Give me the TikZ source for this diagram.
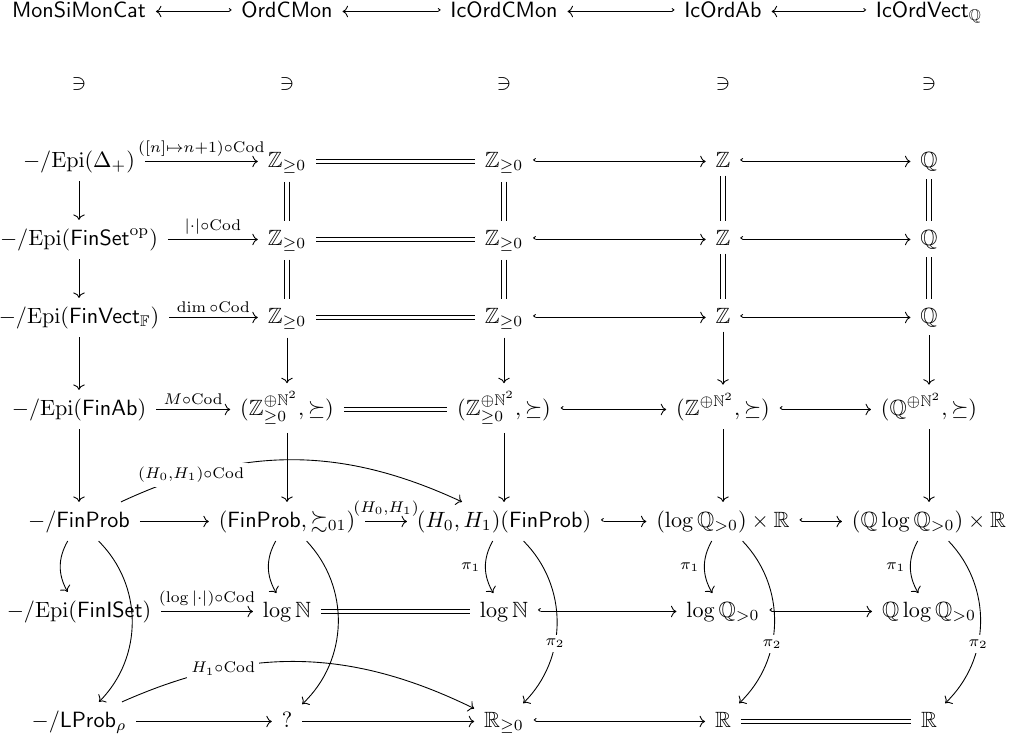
\documentclass[tikz,border=0pt]{standalone}
\usepackage{amsmath,amssymb}
\usetikzlibrary{arrows.meta}
\begin{document}
\begin{tikzpicture}[x=0.4525pt,y=-0.4525pt,
  cell/.style={anchor=base,inner xsep=1ex,inner ysep=0.85ex},
  ar/.style={-{Computer Modern Rightarrow},line width=0.4pt},
  hk/.style={{Hooks[right,length=1.1pt,width=3.2pt]}-{Computer Modern Rightarrow},line width=0.4pt},
  hkl/.style={{Hooks[left,length=1.1pt,width=3.2pt]}-{Computer Modern Rightarrow},line width=0.4pt},
  eq/.style={double,double distance=1.5pt,line width=0.4pt},
  lbl/.style={above,inner sep=0.5ex},
  lbll/.style={left,inner sep=0.5ex},
  desc/.style={fill=white,inner sep=0.45ex,anchor=center}]
\useasboundingbox (0,0) rectangle (1015,741);
\def\ax{2.5pt}
% top row
\node[cell] (t0) at (79,17) {$\mathsf{MonSiMonCat}$};
\node[cell] (t1) at (287,17) {$\mathsf{OrdCMon}$};
\node[cell] (t2) at (504,17) {$\mathsf{IcOrdCMon}$};
\node[cell] (t3) at (723,17) {$\mathsf{IcOrdAb}$};
\node[cell] (t4) at (929,17) {$\mathsf{IcOrdVect}_{\mathbb{Q}}$};
% membership row
\node[cell] (m0) at (79,89) {$\ni$};
\node[cell] (m1) at (287,89) {$\ni$};
\node[cell] (m2) at (504,89) {$\ni$};
\node[cell] (m3) at (723,89) {$\ni$};
\node[cell] (m4) at (929,89) {$\ni$};
% row A
\node[cell] (a0) at (79,167) {$-/\mathrm{Epi}(\Delta_+)$};
\node[cell] (a1) at (287,167) {$\mathbb{Z}_{\geq 0}$};
\node[cell] (a2) at (504,167) {$\mathbb{Z}_{\geq 0}$};
\node[cell] (a3) at (723,167) {$\mathbb{Z}$};
\node[cell] (a4) at (929,167) {$\mathbb{Q}$};
% row B
\node[cell] (b0) at (79,245) {$-/\mathrm{Epi}(\mathsf{FinSet}^{\mathrm{op}})$};
\node[cell] (b1) at (287,245) {$\mathbb{Z}_{\geq 0}$};
\node[cell] (b2) at (504,245) {$\mathbb{Z}_{\geq 0}$};
\node[cell] (b3) at (723,245) {$\mathbb{Z}$};
\node[cell] (b4) at (929,245) {$\mathbb{Q}$};
% row C
\node[cell] (c0) at (79,323) {$-/\mathrm{Epi}(\mathsf{FinVect}_{\mathbb{F}})$};
\node[cell] (c1) at (287,323) {$\mathbb{Z}_{\geq 0}$};
\node[cell] (c2) at (504,323) {$\mathbb{Z}_{\geq 0}$};
\node[cell] (c3) at (723,323) {$\mathbb{Z}$};
\node[cell] (c4) at (929,323) {$\mathbb{Q}$};
% row D
\node[cell] (d0) at (79,415) {$-/\mathrm{Epi}(\mathsf{FinAb})$};
\node[cell] (d1) at (287,415) {$(\mathbb{Z}^{\oplus\mathbb{N}^2}_{\geq 0},\succeq)$};
\node[cell] (d2) at (504,415) {$(\mathbb{Z}^{\oplus\mathbb{N}^2}_{\geq 0},\succeq)$};
\node[cell] (d3) at (723,415) {$(\mathbb{Z}^{\oplus\mathbb{N}^2},\succeq)$};
\node[cell] (d4) at (929,415) {$(\mathbb{Q}^{\oplus\mathbb{N}^2},\succeq)$};
% row E
\node[cell] (e0) at (79,527) {$-/\mathsf{FinProb}$};
\node[cell] (e1) at (287,527) {$(\mathsf{FinProb},\succsim_{01})$};
\node[cell] (e2) at (504,527) {$(H_0,H_1)(\mathsf{FinProb})$};
\node[cell] (e3) at (723,527) {$(\log\mathbb{Q}_{>0})\times\mathbb{R}$};
\node[cell] (e4) at (929,527) {$(\mathbb{Q}\log\mathbb{Q}_{>0})\times\mathbb{R}$};
% row F
\node[cell] (f0) at (79,617) {$-/\mathrm{Epi}(\mathsf{FinISet})$};
\node[cell] (f1) at (287,617) {$\log\mathbb{N}$};
\node[cell] (f2) at (504,617) {$\log\mathbb{N}$};
\node[cell] (f3) at (723,617) {$\log\mathbb{Q}_{>0}$};
\node[cell] (f4) at (929,617) {$\mathbb{Q}\log\mathbb{Q}_{>0}$};
% row G
\node[cell] (g0) at (79,727) {$-/\mathsf{LProb}_\rho$};
\node[cell] (g1) at (287,727) {$?$};
\node[cell] (g2) at (504,727) {$\mathbb{R}_{\geq 0}$};
\node[cell] (g3) at (723,727) {$\mathbb{R}$};
\node[cell] (g4) at (929,727) {$\mathbb{R}$};

% top row arrows
\draw[hkl] ([yshift=\ax]t1.base west) -- ([yshift=\ax]t0.base east);
\draw[hkl] ([yshift=\ax]t2.base west) -- ([yshift=\ax]t1.base east);
\draw[hkl] ([yshift=\ax]t3.base west) -- ([yshift=\ax]t2.base east);
\draw[hkl] ([yshift=\ax]t4.base west) -- ([yshift=\ax]t3.base east);
% row A
\draw[ar] ([yshift=\ax]a0.base east) -- node[lbl]{$\scriptstyle([n]\mapsto n+1)\circ\mathrm{Cod}$} ([yshift=\ax]a1.base west);
\draw[eq] ([yshift=\ax]a1.base east) -- ([yshift=\ax]a2.base west);
\draw[hk] ([yshift=\ax]a2.base east) -- ([yshift=\ax]a3.base west);
\draw[hk] ([yshift=\ax]a3.base east) -- ([yshift=\ax]a4.base west);
% row B
\draw[ar] ([yshift=\ax]b0.base east) -- node[lbl]{$\scriptstyle|\cdot|\circ\mathrm{Cod}$} ([yshift=\ax]b1.base west);
\draw[eq] ([yshift=\ax]b1.base east) -- ([yshift=\ax]b2.base west);
\draw[hk] ([yshift=\ax]b2.base east) -- ([yshift=\ax]b3.base west);
\draw[hk] ([yshift=\ax]b3.base east) -- ([yshift=\ax]b4.base west);
% row C
\draw[ar] ([yshift=\ax]c0.base east) -- node[lbl]{$\scriptstyle\dim\circ\mathrm{Cod}$} ([yshift=\ax]c1.base west);
\draw[eq] ([yshift=\ax]c1.base east) -- ([yshift=\ax]c2.base west);
\draw[hk] ([yshift=\ax]c2.base east) -- ([yshift=\ax]c3.base west);
\draw[hk] ([yshift=\ax]c3.base east) -- ([yshift=\ax]c4.base west);
% row D
\draw[ar] ([yshift=\ax]d0.base east) -- node[lbl]{$\scriptstyle M\circ\mathrm{Cod}$} ([yshift=\ax]d1.base west);
\draw[eq] ([yshift=\ax]d1.base east) -- ([yshift=\ax]d2.base west);
\draw[hk] ([yshift=\ax]d2.base east) -- ([yshift=\ax]d3.base west);
\draw[hk] ([yshift=\ax]d3.base east) -- ([yshift=\ax]d4.base west);
% row E
\draw[ar] ([yshift=\ax]e0.base east) -- ([yshift=\ax]e1.base west);
\draw[ar] ([yshift=\ax]e1.base east) -- node[lbl]{$\scriptstyle(H_0,H_1)$} ([yshift=\ax]e2.base west);
\draw[hk] ([yshift=\ax]e2.base east) -- ([yshift=\ax]e3.base west);
\draw[hk] ([yshift=\ax]e3.base east) -- ([yshift=\ax]e4.base west);
% row F
\draw[ar] ([yshift=\ax]f0.base east) -- node[lbl]{$\scriptstyle(\log|\cdot|)\circ\mathrm{Cod}$} ([yshift=\ax]f1.base west);
\draw[eq] ([yshift=\ax]f1.base east) -- ([yshift=\ax]f2.base west);
\draw[hk] ([yshift=\ax]f2.base east) -- ([yshift=\ax]f3.base west);
\draw[hk] ([yshift=\ax]f3.base east) -- ([yshift=\ax]f4.base west);
% row G
\draw[ar] ([yshift=\ax]g0.base east) -- ([yshift=\ax]g1.base west);
\draw[ar] ([yshift=\ax]g1.base east) -- ([yshift=\ax]g2.base west);
\draw[hk] ([yshift=\ax]g2.base east) -- ([yshift=\ax]g3.base west);
\draw[eq] ([yshift=\ax]g3.base east) -- ([yshift=\ax]g4.base west);

% column 0
\draw[ar] (a0) -- (b0);
\draw[ar] (b0) -- (c0);
\draw[ar] (c0) -- (d0);
\draw[ar] (d0) -- (e0);
% columns 1-4
\foreach \k in {1,2,3,4}{
  \draw[eq] (a\k) -- (b\k);
  \draw[eq] (b\k) -- (c\k);
  \draw[ar] (c\k) -- (d\k);
  \draw[ar] (d\k) -- (e\k);
}
% curved arrows
\draw[ar] (e0) to[bend right] (f0);
\draw[ar] (e0) to[bend left=45] (g0);
\draw[ar] (e1) to[bend right] (f1);
\draw[ar] (e1) to[bend left=45] (g1);
\foreach \k in {2,3,4}{
  \draw[ar] (e\k) to[bend right] node[lbll]{$\scriptstyle\pi_1$} (f\k);
  \draw[ar] (e\k) to[bend left=45] node[desc,pos=0.62]{$\scriptstyle\pi_2$} (g\k);
}
\draw[ar] (e0) to[bend left=25] node[desc,pos=0.2]{$\scriptstyle(H_0,H_1)\circ\mathrm{Cod}$} (e2);
\draw[ar] (g0) to[bend left=25] node[desc,pos=0.28]{$\scriptstyle H_1\circ\mathrm{Cod}$} (g2);
\end{tikzpicture}
\end{document}
